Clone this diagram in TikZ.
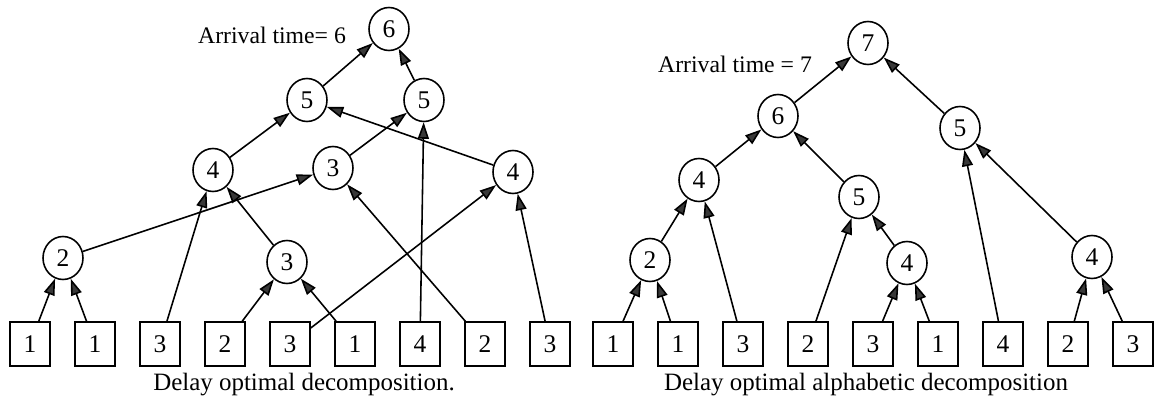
\documentclass[tikz,border=0pt]{standalone}
\usepackage{fontspec}
\setmainfont{Liberation Serif}
\usetikzlibrary{arrows.meta,shapes.geometric}

\begin{document}
\begin{tikzpicture}[x=0.02cm, y=-0.02cm]
    \tikzstyle{gate vertex} = [ellipse,draw=black,fill=white,line width=0.9pt,inner sep=0pt, minimum width=0.8cm, minimum height=0.86cm, font=\fontsize{14.5}{16}\selectfont]
    \tikzstyle{input vertex} = [rectangle,draw=black,fill=white,line width=0.9pt,inner sep=0pt, minimum width=0.8cm, minimum height=0.88cm, font=\fontsize{14.5}{16}\selectfont]
    \tikzstyle{graph edge undirected} = [draw=black, line width=0.9pt]
    \tikzstyle{graph edge directed} = [graph edge undirected, -{Triangle[length=3.3mm,width=2.2mm,fill=black!78]}]
    \tikzstyle{caption text} = [font=\fontsize{14.2}{16}\selectfont]
\useasboundingbox (0,0) rectangle (1156,405);
% delay optimal decomposition
\node[input vertex] (la) at (30, 344) {1};
\node[input vertex] (lb) at (95, 344) {1};
\node[input vertex] (lc) at (160, 344) {3};
\node[input vertex] (ld) at (225, 344) {2};
\node[input vertex] (le) at (290, 344) {3};
\node[input vertex] (lf) at (355, 344) {1};
\node[input vertex] (lg) at (420, 344) {4};
\node[input vertex] (lh) at (485, 344) {2};
\node[input vertex] (li) at (550, 344) {3};
\node[gate vertex] (lab) at (63, 258) {2};
\node[gate vertex] (ldf) at (287, 262) {3};
\node[gate vertex] (lcdf) at (213, 170) {4};
\node[gate vertex] (labh) at (333, 168) {3};
\node[gate vertex] (lei) at (513, 172) {4};
\node[gate vertex] (lleft) at (307, 100) {5};
\node[gate vertex] (lright) at (424, 100) {5};
\node[gate vertex] (lroot) at (389, 29) {6};
\node[caption text, font=\fontsize{13.5}{16}\selectfont] (ltime) at (272, 35) {Arrival time= 6};
\node[caption text] (lcap) at (304, 385) {Delay optimal decomposition.};
\draw[graph edge directed] (la) to (lab);
\draw[graph edge directed] (lb) to (lab);
\draw[graph edge directed] (ld) to (ldf);
\draw[graph edge directed] (lf) to (ldf);
\draw[graph edge directed] (lc) to (lcdf);
\draw[graph edge directed] (ldf) to (lcdf);
\draw[graph edge directed] (lab) to (labh);
\draw[graph edge directed] (lh) to (labh);
\draw[graph edge directed] (le) to (lei);
\draw[graph edge directed] (li) to (lei);
\draw[graph edge directed] (lcdf) to (lleft);
\draw[graph edge directed] (lei) to (lleft);
\draw[graph edge directed] (labh) to (lright);
\draw[graph edge directed] (lg) to (lright);
\draw[graph edge directed] (lleft) to (lroot);
\draw[graph edge directed] (lright) to (lroot);
% delay optimal alphabetic decomposition
\node[input vertex] (ra) at (613, 344) {1};
\node[input vertex] (rb) at (678, 344) {1};
\node[input vertex] (rc) at (743, 344) {3};
\node[input vertex] (rd) at (808, 344) {2};
\node[input vertex] (re) at (873, 344) {3};
\node[input vertex] (rf) at (938, 344) {1};
\node[input vertex] (rg) at (1003, 344) {4};
\node[input vertex] (rh) at (1068, 344) {2};
\node[input vertex] (ri) at (1133, 344) {3};
\node[gate vertex] (rab) at (650, 260) {2};
\node[gate vertex] (ref) at (907, 263) {4};
\node[gate vertex] (rhi) at (1092, 257) {4};
\node[gate vertex] (rabc) at (699, 180) {4};
\node[gate vertex] (rdef) at (859, 197) {5};
\node[gate vertex] (rleft) at (778, 116) {6};
\node[gate vertex] (rright) at (960, 128) {5};
\node[gate vertex] (rroot) at (868, 43) {7};
\node[caption text, font=\fontsize{13.5}{16}\selectfont] (rtime) at (735, 64) {Arrival time = 7};
\node[caption text] (rcap) at (866, 385) {Delay optimal alphabetic decomposition};
\draw[graph edge directed] (ra) to (rab);
\draw[graph edge directed] (rb) to (rab);
\draw[graph edge directed] (rab) to (rabc);
\draw[graph edge directed] (rc) to (rabc);
\draw[graph edge directed] (re) to (ref);
\draw[graph edge directed] (rf) to (ref);
\draw[graph edge directed] (rd) to (rdef);
\draw[graph edge directed] (ref) to (rdef);
\draw[graph edge directed] (rh) to (rhi);
\draw[graph edge directed] (ri) to (rhi);
\draw[graph edge directed] (rabc) to (rleft);
\draw[graph edge directed] (rdef) to (rleft);
\draw[graph edge directed] (rg) to (rright);
\draw[graph edge directed] (rhi) to (rright);
\draw[graph edge directed] (rleft) to (rroot);
\draw[graph edge directed] (rright) to (rroot);
\end{tikzpicture}
\end{document}
